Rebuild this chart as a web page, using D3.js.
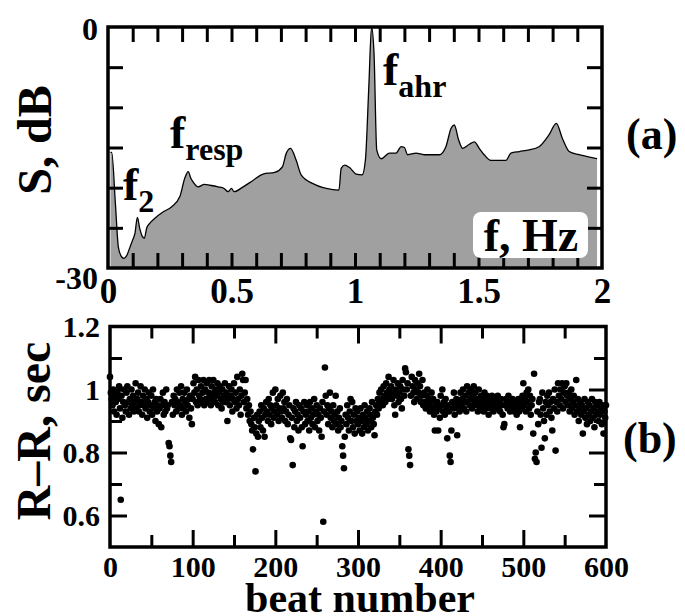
<!DOCTYPE html>
<html>
<head>
<meta charset="utf-8">
<script src="https://cdn.jsdelivr.net/npm/d3@7"></script>
<style>
  body { margin: 0; background: #fff; }
</style>
</head>
<body>
<svg id="chart" width="685" height="616"></svg>
<script>
// (a) power spectrum of the R-R series
const specFreq = [0.010, 0.015, 0.030, 0.042, 0.055, 0.065, 0.075, 0.089, 0.100, 0.109, 0.119, 0.128, 0.138,
  0.147, 0.157, 0.167, 0.190, 0.224, 0.257, 0.291, 0.311, 0.325, 0.335, 0.345, 0.365, 0.390, 0.412, 0.446,
  0.470, 0.486, 0.500, 0.510, 0.547, 0.587, 0.628, 0.675, 0.706, 0.722, 0.739, 0.762, 0.782, 0.830, 0.884,
  0.935, 0.944, 0.958, 0.978, 1.005, 1.029, 1.042, 1.056, 1.067, 1.077, 1.088, 1.106, 1.139, 1.166, 1.187,
  1.200, 1.213, 1.247, 1.280, 1.341, 1.368, 1.389, 1.402, 1.420, 1.436, 1.463, 1.483, 1.503, 1.523, 1.550,
  1.611, 1.631, 1.665, 1.705, 1.745, 1.786, 1.815, 1.840, 1.867, 1.907, 1.950, 1.980];
const specDb = [-15.6, -15.6, -22.0, -27.4, -28.6, -28.8, -28.5, -27.4, -26.5, -25.7, -23.7, -25.0, -26.0,
  -26.3, -25.0, -24.5, -23.8, -23.0, -22.4, -21.1, -18.8, -18.0, -18.8, -19.3, -19.9, -19.6, -19.7, -19.9,
  -20.1, -20.5, -20.1, -20.5, -19.9, -19.1, -18.3, -18.1, -17.4, -15.7, -15.1, -16.6, -18.4, -19.5, -20.1,
  -20.3, -17.6, -17.2, -17.5, -18.3, -18.4, -16.6, -7.4, 0.0, -3.3, -15.3, -16.4, -15.7, -15.7, -14.9,
  -15.0, -15.9, -15.7, -15.9, -15.9, -14.9, -12.6, -12.2, -14.1, -15.1, -14.6, -14.3, -15.1, -15.9, -16.6,
  -16.6, -15.7, -15.5, -15.3, -14.9, -13.4, -12.0, -13.9, -15.5, -15.9, -16.2, -16.4];

// (b) R-R intervals (sec), one per beat starting at beat 0
const rrInterval = [
  1.04, 0.99, 0.97, 0.95, 1.00, 0.93, 0.98, 0.96, 0.92, 0.99,
  0.97, 1.01, 0.94, 0.65, 0.98, 0.91, 0.96, 1.00, 0.95, 0.93,
  0.99, 1.01, 0.96, 0.92, 0.97, 0.94, 1.00, 0.95, 0.98, 0.93,
  0.96, 1.02, 0.94, 0.97, 0.99, 0.93, 0.95, 1.01, 0.96, 0.92,
  0.98, 0.95, 1.00, 0.94, 0.97, 0.91, 0.96, 0.99, 0.93, 0.95,
  0.98, 0.92, 1.00, 0.94, 0.96, 0.90, 0.97, 0.93, 0.95, 0.89,
  0.94, 0.97, 0.88, 0.95, 0.99, 0.92, 0.96, 0.93, 1.00, 0.94,
  0.95, 0.83, 0.82, 0.79, 0.77, 0.96, 0.92, 0.98, 0.95, 0.97,
  0.93, 1.00, 0.96, 0.94, 0.99, 0.95, 1.01, 0.92, 0.97, 0.94,
  0.99, 0.96, 0.93, 1.00, 0.95, 0.97, 0.91, 0.98, 0.94, 0.89,
  0.97, 1.02, 0.99, 1.04, 0.96, 1.00, 0.95, 1.03, 0.98, 0.97,
  1.01, 0.96, 0.99, 1.03, 0.95, 1.00, 0.97, 1.02, 0.96, 0.99,
  1.03, 0.98, 0.95, 1.01, 0.97, 1.03, 0.99, 0.96, 1.00, 0.98,
  1.02, 0.95, 0.99, 1.01, 0.97, 0.94, 1.00, 0.96, 0.98, 1.02,
  0.96, 0.99, 0.90, 0.97, 1.01, 0.95, 0.98, 1.00, 0.93, 0.97,
  1.02, 0.96, 0.99, 0.94, 1.04, 0.97, 0.95, 1.00, 0.92, 0.98,
  1.05, 1.03, 0.96, 0.99, 1.03, 0.94, 0.97, 0.92, 0.95, 0.90,
  0.93, 0.89, 0.87, 0.81, 0.91, 0.88, 0.74, 0.86, 0.92, 0.85,
  0.90, 0.93, 0.88, 0.95, 0.91, 0.87, 0.94, 0.85, 0.92, 0.96,
  0.93, 0.90, 0.97, 0.92, 0.95, 0.89, 0.94, 0.99, 0.91, 0.93,
  1.00, 0.95, 0.92, 0.97, 0.90, 0.94, 0.98, 0.93, 0.91, 0.99,
  0.94, 0.96, 0.90, 0.93, 0.97, 0.89, 0.92, 0.95, 0.845, 0.84,
  0.91, 0.76, 0.94, 0.88, 0.93, 0.96, 0.90, 0.92, 0.87, 0.95,
  0.91, 0.94, 0.88, 0.82, 0.93, 0.96, 0.89, 0.92, 0.95, 0.90,
  0.93, 0.87, 0.96, 0.91, 0.94, 0.89, 0.92, 0.97, 0.88, 0.93,
  0.95, 0.90, 0.92, 0.87, 0.94, 0.91, 0.85, 0.96, 0.58, 0.93,
  1.07, 0.98, 0.92, 0.95, 0.89, 0.94, 0.99, 0.91, 0.93, 0.88,
  0.95, 0.90, 0.92, 0.98, 0.89, 0.93, 0.87, 0.91, 0.94, 0.88,
  0.90, 0.82, 0.79, 0.75, 0.85, 0.92, 0.89, 0.95, 0.91, 0.87,
  0.93, 0.97, 0.90, 0.96, 0.88, 0.92, 0.86, 0.94, 0.90, 0.93,
  0.89, 0.91, 0.87, 0.94, 0.90, 0.86, 0.92, 0.88, 0.95, 0.91,
  0.89, 0.93, 0.87, 0.90, 0.94, 0.92, 0.88, 0.96, 0.91, 0.89,
  0.855, 0.93, 0.95, 0.92, 0.97, 0.94, 0.99, 0.96, 1.00, 0.97,
  0.95, 1.01, 0.98, 0.96, 1.02, 0.99, 0.97, 1.04, 1.00, 0.98,
  1.01, 0.97, 0.99, 1.03, 0.95, 0.92, 1.00, 0.98, 1.02, 0.96,
  0.99, 1.01, 0.97, 0.94, 1.03, 1.00, 0.98, 1.067, 1.055, 1.00,
  1.02, 0.81, 0.79, 0.76, 0.98, 1.04, 1.01, 0.99, 0.96, 1.03,
  1.00, 0.97, 1.02, 0.99, 1.05, 1.01, 0.96, 0.98, 1.03, 0.95,
  0.99, 0.96, 0.94, 0.98, 1.00, 0.95, 0.97, 0.93, 0.96, 0.99,
  0.94, 0.97, 0.92, 0.87, 0.95, 0.93, 0.96, 0.87, 0.94, 0.91,
  0.98, 0.95, 1.00, 0.93, 0.96, 0.92, 0.97, 0.94, 0.845, 0.95,
  0.93, 0.79, 0.77, 0.87, 0.96, 0.94, 0.99, 0.92, 0.95, 0.97,
  0.855, 0.94, 0.96, 0.93, 0.99, 0.95, 0.97, 1.00, 0.94, 0.96,
  0.98, 0.93, 1.01, 0.96, 0.99, 0.95, 0.97, 1.00, 0.94, 0.98,
  1.01, 0.96, 0.99, 0.95, 0.97, 0.93, 1.00, 0.96, 0.94, 0.98,
  0.95, 0.97, 0.93, 0.99, 0.96, 0.94, 0.98, 0.95, 0.92, 0.97,
  0.96, 0.94, 0.98, 0.95, 0.93, 0.97, 0.95, 0.94, 0.96, 0.98,
  0.94, 0.96, 0.93, 0.97, 0.95, 0.92, 0.88, 0.89, 0.95, 0.97,
  0.96, 0.94, 0.98, 0.95, 0.93, 0.96, 0.94, 0.97, 0.95, 0.93,
  0.96, 0.94, 0.92, 0.95, 0.97, 0.93, 0.88, 0.96, 0.94, 0.98,
  1.02, 0.95, 0.97, 0.93, 0.99, 0.96, 1.00, 0.94, 0.98, 0.92,
  0.95, 0.97, 0.86, 1.05, 0.78, 0.80, 0.77, 0.93, 0.89, 0.96,
  0.97, 0.92, 0.815, 0.99, 0.94, 0.90, 0.845, 0.96, 0.92, 0.98,
  0.95, 0.99, 0.93, 0.96, 0.91, 0.87, 0.97, 0.94, 1.00, 0.806,
  0.96, 0.93, 1.02, 0.98, 0.95, 1.00, 0.97, 1.02, 0.94, 0.99,
  1.01, 0.96, 1.02, 0.98, 0.95, 0.99, 0.93, 0.97, 1.00, 0.94,
  0.96, 0.98, 0.92, 0.95, 1.03, 0.93, 0.97, 0.90, 0.94, 0.96,
  0.92, 0.95, 0.86, 0.93, 0.97, 0.91, 0.94, 0.89, 0.96, 0.92,
  0.95, 0.90, 0.93, 0.97, 0.91, 0.94, 0.88, 0.96, 0.92, 0.95,
  0.93, 0.90, 0.96, 0.92, 0.94, 0.89, 0.95, 0.86, 0.93, 0.91,
  0.95];

// tick positions and labels
const specFreqLabels = [0, 0.5, 1, 1.5, 2];
const specFreqMinor = d3.range(1, 20).map(i => i / 10);
const specDbLabels = [0, -30];
const specDbMinor = [-25, -20, -15, -10, -5];
const beatLabels = [0, 100, 200, 300, 400, 500, 600];
const beatMajor = [100, 200, 300, 400, 500];
const beatMinor = [50, 150, 250, 350, 450, 550];
const rrLabels = [0.6, 0.8, 1, 1.2];
const rrMajor = [0.6, 0.8, 1.0];
const rrMinor = [0.7, 0.9, 1.1];

const FONT = '"Liberation Serif", serif';
const svg = d3.select("#chart");

// panel frames
const pa = { left: 108, right: 602, top: 27, bottom: 268 };
const pb = { left: 110, right: 606, top: 326.5, bottom: 547 };

const xA = d3.scaleLinear().domain([0, 2]).range([pa.left, pa.right]);
const yA = d3.scaleLinear().domain([-30, 0]).range([pa.bottom, pa.top]);
const xB = d3.scaleLinear().domain([0, 600]).range([pb.left, pb.right]);
const yB = d3.scaleLinear().domain([0.5, 1.2]).range([pb.bottom, pb.top]);

// inside ticks on all four sides
function insideTicks(p, xs, ys, xVals, yVals, len) {
  const g = svg.append("g");
  const style = sel => {
    sel.select(".domain").remove();
    sel.selectAll("line").attr("stroke", "#000").attr("stroke-width", 3);
    sel.selectAll("text").remove();
  };
  g.append("g").attr("transform", `translate(0,${p.bottom})`)
    .call(d3.axisBottom(xs).tickValues(xVals).tickSize(-len)).call(style);
  g.append("g").attr("transform", `translate(0,${p.top})`)
    .call(d3.axisTop(xs).tickValues(xVals).tickSize(-len)).call(style);
  g.append("g").attr("transform", `translate(${p.left},0)`)
    .call(d3.axisLeft(ys).tickValues(yVals).tickSize(-len)).call(style);
  g.append("g").attr("transform", `translate(${p.right},0)`)
    .call(d3.axisRight(ys).tickValues(yVals).tickSize(-len)).call(style);
}

function labelAxis(axis, transform, fontSize) {
  const g = svg.append("g").attr("transform", transform).call(axis);
  g.select(".domain").remove();
  g.selectAll("line").remove();
  g.selectAll("text").attr("fill", "#000").style("font-size", fontSize + "px");
  return g;
}

// ---- panel (a): spectrum ----
svg.append("clipPath").attr("id", "clipA").append("rect")
  .attr("x", pa.left).attr("y", pa.top).attr("width", pa.right - pa.left).attr("height", pa.bottom - pa.top);

const spec = specFreq.map((f, i) => ({ f, s: specDb[i] }));
const area = d3.area().x(d => xA(d.f)).y0(yA(-30)).y1(d => yA(d.s)).curve(d3.curveMonotoneX);
const line = d3.line().x(d => xA(d.f)).y(d => yA(d.s)).curve(d3.curveMonotoneX);

const gA = svg.append("g").attr("clip-path", "url(#clipA)");
gA.append("path").datum(spec).attr("d", area).attr("fill", "#a0a0a0");
gA.append("path").datum(spec).attr("d", line).attr("fill", "none").attr("stroke", "#000").attr("stroke-width", 1.3);

insideTicks(pa, xA, yA, specFreqMinor, specDbMinor, 15);

svg.append("rect").attr("x", pa.left).attr("y", pa.top)
  .attr("width", pa.right - pa.left).attr("height", pa.bottom - pa.top)
  .attr("fill", "none").attr("stroke", "#000").attr("stroke-width", 3.5);

labelAxis(d3.axisBottom(xA).tickValues(specFreqLabels).tickSize(0).tickPadding(10)
  .tickFormat(d => String(d)), `translate(0,${pa.bottom})`, 35);
const ya = labelAxis(d3.axisLeft(yA).tickValues(specDbLabels).tickSize(0).tickPadding(10)
  .tickFormat(d => String(d)), `translate(${pa.left},0)`, 32);
ya.selectAll("text").filter(d => d === -30).attr("dy", "0.65em");
ya.selectAll("text").filter(d => d === 0).attr("dy", "0.40em");

// peak annotations
function peakLabel(x, y, sub) {
  const t = svg.append("text").attr("x", x).attr("y", y).style("font-size", "46px");
  t.append("tspan").text("f");
  t.append("tspan").attr("dy", 12).style("font-size", "32px").text(sub);
}
peakLabel(123, 200, "2");
peakLabel(170, 148, "resp");
peakLabel(383, 85, "ahr");

// frequency axis title in a white box
svg.append("rect").attr("x", 473).attr("y", 212).attr("width", 115).attr("height", 46)
  .attr("rx", 8).attr("fill", "#fff");
svg.append("text").attr("x", 531).attr("y", 251).attr("text-anchor", "middle")
  .style("font-size", "46px").text("f, Hz");

svg.append("text").attr("transform", "translate(51,140) rotate(-90)")
  .attr("text-anchor", "middle").style("font-size", "48px").text("S, dB");
svg.append("text").attr("x", 626).attr("y", 149).style("font-size", "44px").text("(a)");

// ---- panel (b): R-R intervals ----
svg.append("g").selectAll("circle").data(rrInterval).join("circle")
  .attr("cx", (d, i) => xB(i)).attr("cy", d => yB(d)).attr("r", 3.3).attr("fill", "#000");

insideTicks(pb, xB, yB, beatMinor, rrMinor, 12);
insideTicks(pb, xB, yB, beatMajor, rrMajor, 17);

svg.append("rect").attr("x", pb.left).attr("y", pb.top)
  .attr("width", pb.right - pb.left).attr("height", pb.bottom - pb.top)
  .attr("fill", "none").attr("stroke", "#000").attr("stroke-width", 3.5);

labelAxis(d3.axisBottom(xB).tickValues(beatLabels).tickSize(0).tickPadding(9)
  .tickFormat(d => String(d)), `translate(0,${pb.bottom})`, 30);
labelAxis(d3.axisLeft(yB).tickValues(rrLabels).tickSize(0).tickPadding(10)
  .tickFormat(d => String(d)), `translate(${pb.left},0)`, 30);

svg.append("text").attr("transform", "translate(50,431) rotate(-90)")
  .attr("text-anchor", "middle").style("font-size", "48px").text("R–R, sec");
svg.append("text").attr("x", 360).attr("y", 612).attr("text-anchor", "middle")
  .style("font-size", "42px").text("beat number");
svg.append("text").attr("x", 623).attr("y", 453).style("font-size", "44px").text("(b)");

// every text in Times-style bold serif
svg.selectAll("text").style("font-family", FONT).style("font-weight", "bold").attr("fill", "#000");
</script>
</body>
</html>
